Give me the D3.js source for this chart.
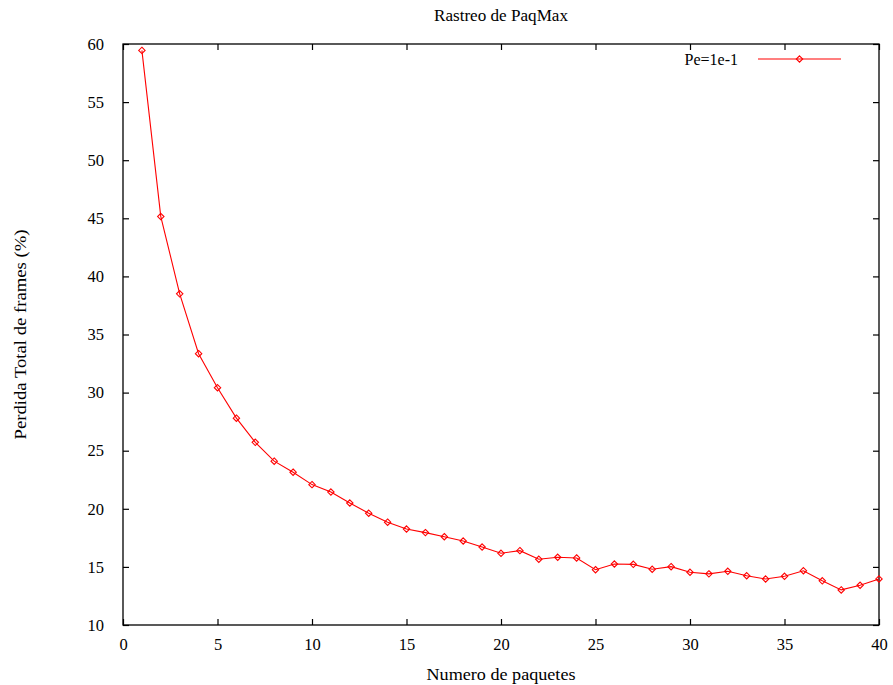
<!DOCTYPE html>
<html>
<head>
<meta charset="utf-8">
<script src="https://cdn.jsdelivr.net/npm/d3@7"></script>
<style>
  html, body { margin: 0; padding: 0; background: #fff; }
  svg { display: block; font-family: "Liberation Serif", "Times New Roman", serif; }
</style>
</head>
<body>
<svg id="chart" width="893" height="685"></svg>
<script>
// Number of packets (x) and total frame loss in percent (y)
const packets = [1,2,3,4,5,6,7,8,9,10,11,12,13,14,15,16,17,18,19,20,
                 21,22,23,24,25,26,27,28,29,30,31,32,33,34,35,36,37,38,39,40];
const lossPe1e1 = [59.45,45.15,38.5,33.35,30.42,27.8,25.72,24.1,23.15,22.08,
                   21.44,20.5,19.62,18.85,18.26,17.95,17.6,17.23,16.71,16.17,
                   16.4,15.66,15.83,15.77,14.76,15.25,15.22,14.8,15.02,14.54,
                   14.4,14.62,14.24,13.96,14.19,14.67,13.8,13.02,13.42,13.96];
const seriesName = "Pe=1e-1";
const xTicks = [0,5,10,15,20,25,30,35,40];
const yTicks = [10,15,20,25,30,35,40,45,50,55,60];

const svg = d3.select("#chart");
const plotL = 123, plotR = 879, plotT = 44, plotB = 625;

const x = d3.scaleLinear().domain([0, 40]).range([plotL, plotR]);
const y = d3.scaleLinear().domain([10, 60]).range([plotB, plotT]);

const tickLen = 6;
const fontSize = 16.5;

// Frame
svg.append("rect")
  .attr("x", plotL).attr("y", plotT)
  .attr("width", plotR - plotL).attr("height", plotB - plotT)
  .attr("fill", "none").attr("stroke", "#000").attr("stroke-width", 1.3);

// Inward ticks on all four sides
const xAxisB = d3.axisBottom(x).tickValues(xTicks).tickSize(-tickLen).tickPadding(13).tickFormat(d3.format("d"));
const xAxisT = d3.axisTop(x).tickValues(xTicks).tickSize(-tickLen).tickFormat("");
const yAxisL = d3.axisLeft(y).tickValues(yTicks).tickSize(-tickLen).tickPadding(19).tickFormat(d3.format("d"));
const yAxisR = d3.axisRight(y).tickValues(yTicks).tickSize(-tickLen).tickFormat("");

function styleAxis(g) {
  g.select(".domain").remove();
  g.selectAll(".tick line").attr("stroke", "#000").attr("stroke-width", 1.2);
  g.selectAll(".tick text").attr("fill", "#000")
    .style("font-family", "'Liberation Serif', serif").style("font-size", fontSize + "px");
}

svg.append("g").attr("transform", `translate(0,${plotB})`).call(xAxisB).call(styleAxis);
svg.append("g").attr("transform", `translate(0,${plotT})`).call(xAxisT).call(styleAxis);
svg.append("g").attr("transform", `translate(${plotL},0)`).call(yAxisL).call(styleAxis);
svg.append("g").attr("transform", `translate(${plotR},0)`).call(yAxisR).call(styleAxis);

// Titles
svg.append("text").attr("x", (plotL + plotR) / 2).attr("y", 20.5)
  .attr("text-anchor", "middle").style("font-size", "16px")
  .attr("textLength", 134).attr("lengthAdjust", "spacingAndGlyphs")
  .text("Rastreo de PaqMax");
svg.append("text").attr("x", (plotL + plotR) / 2).attr("y", 680)
  .attr("text-anchor", "middle").style("font-size", "17.5px")
  .attr("textLength", 149).attr("lengthAdjust", "spacingAndGlyphs")
  .text("Numero de paquetes");
svg.append("text").attr("transform", `translate(25.5,${(plotT + plotB) / 2}) rotate(-90)`)
  .attr("text-anchor", "middle").style("font-size", "17.5px")
  .attr("textLength", 210).attr("lengthAdjust", "spacingAndGlyphs")
  .text("Perdida Total de frames (%)");

// Series line + diamond markers
const data = packets.map((p, i) => ({ p, v: lossPe1e1[i] }));
const red = "#ff0000";

svg.append("path").datum(data)
  .attr("fill", "none").attr("stroke", red).attr("stroke-width", 1.1)
  .attr("d", d3.line().x(d => x(d.p)).y(d => y(d.v)));

const diamond = d3.symbol().type(d3.symbolDiamond2).size(26);
svg.append("g").selectAll("path").data(data).join("path")
  .attr("transform", d => `translate(${x(d.p)},${y(d.v)})`)
  .attr("d", diamond)
  .attr("fill", "none").attr("stroke", red).attr("stroke-width", 1.1);

// Legend
const legY = 59;
svg.append("text").attr("x", 738).attr("y", legY + 5.5)
  .attr("text-anchor", "end").style("font-size", "16px").text(seriesName);
svg.append("line").attr("x1", 758).attr("x2", 841).attr("y1", legY).attr("y2", legY)
  .attr("stroke", red).attr("stroke-width", 1.1);
svg.append("path").attr("transform", `translate(799.5,${legY})`).attr("d", diamond)
  .attr("fill", "none").attr("stroke", red).attr("stroke-width", 1.1);
</script>
</body>
</html>
